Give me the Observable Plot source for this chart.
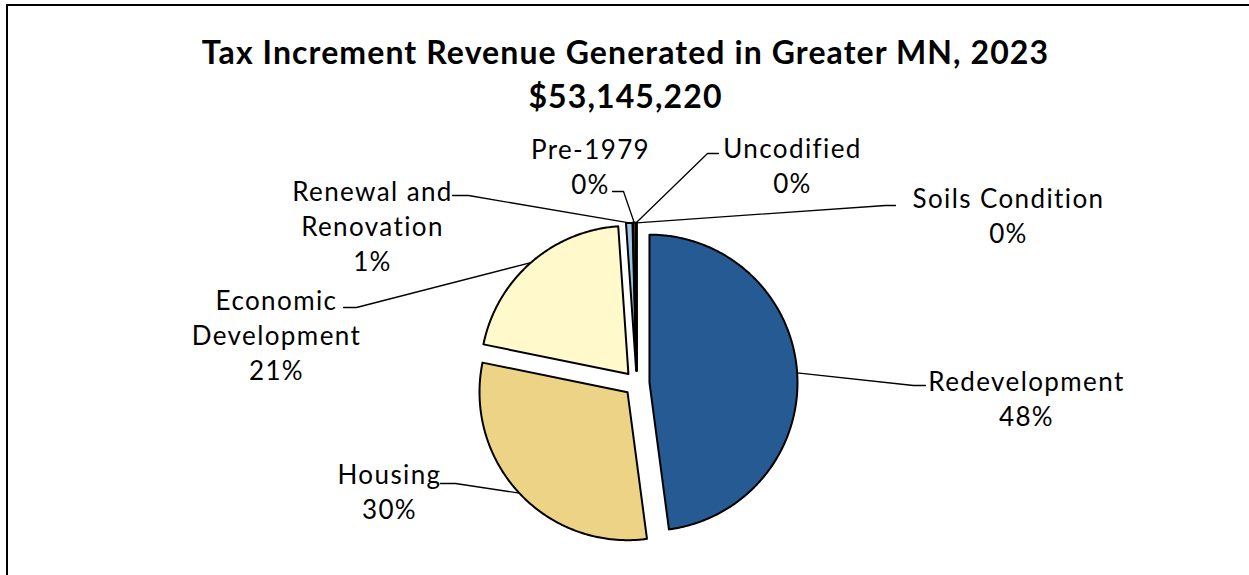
<!DOCTYPE html>
<html><head><meta charset="utf-8">
<script src="https://cdn.jsdelivr.net/npm/d3@7"></script>
<script src="https://cdn.jsdelivr.net/npm/@observablehq/plot@0.6"></script>
<style>
html,body{margin:0;padding:0;background:#fff;overflow:hidden;}
#wrap{position:relative;width:1249px;height:575px;overflow:hidden;}
#border{position:absolute;left:6px;top:4px;width:1400px;height:800px;border:2px solid #000;box-sizing:border-box;pointer-events:none;}
#chart{position:absolute;left:0;top:0;}
</style></head><body>
<div id="wrap"><div id="chart"></div><div id="border"></div></div>
<script>
// ---- data ----
const titleText = "Tax Increment Revenue Generated in Greater MN, 2023";
const totalText = "$53,145,220";
const categories = ["Redevelopment","Housing","Economic Development","Renewal and Renovation","Pre-1979","Uncodified","Soils Condition"];
const shares = [47.9, 30.3, 20.7, 0.7, 0.3, 0.08, 0.02];
const labelNames = ["Redevelopment","Housing","Economic\nDevelopment","Renewal and\nRenovation","Pre-1979","Uncodified","Soils Condition"];

// ---- style / layout ----
const sliceColors = ["#265a92","#edd385","#fff9cc","#9dc3e6","#806000","#1f1f1f","#c00000"];
const W = 1249, H = 575, CX = 636.3, CY = 383, R = 148, EXPLODE = 12.7;
const toUx = px => (px - CX) / R, toUy = py => (CY - py) / R;
const labelAt = [[1026,397],[389,490],[276,333],[372,224],[590,165],[792,164],[1008,214]];
const leaderAt = [
  [[925,385],[913,385]],
  [[440,483],[455,483]],
  [[343,307],[356,307]],
  [[452,195],[468,195]],
  [[612,191],[623,191]],
  [[718,153],[707,153]],
  [[895,205],[885,205]]
];
const titleAt = [625, 71];

// ---- geometry from data ----
const total = d3.sum(shares);
const arcs = d3.pie().sort(null).value(d => d)(shares);
const slicePts = [], leaderPts = [], labels = [];
arcs.forEach((a, i) => {
  const cat = categories[i];
  const m = (a.startAngle + a.endAngle) / 2, off = EXPLODE / R;
  const ox = off * Math.sin(m), oy = off * Math.cos(m);
  const n = Math.max(2, Math.ceil((a.endAngle - a.startAngle) / 0.01));
  slicePts.push({cat, x: ox, y: oy});
  for (let k = 0; k <= n; k++) {
    const t = a.startAngle + (a.endAngle - a.startAngle) * k / n;
    slicePts.push({cat, x: ox + Math.sin(t), y: oy + Math.cos(t)});
  }
  slicePts.push({cat, x: ox, y: oy});
  const [endP, elbow] = leaderAt[i];
  leaderPts.push({cat, x: toUx(endP[0]), y: toUy(endP[1])});
  leaderPts.push({cat, x: toUx(elbow[0]), y: toUy(elbow[1])});
  leaderPts.push({cat, x: ox + Math.sin(m), y: oy + Math.cos(m)});
  labels.push({x: toUx(labelAt[i][0]), y: toUy(labelAt[i][1]),
    text: labelNames[i] + "\n" + Math.round(shares[i] / total * 100) + "%"});
});

const chart = Plot.plot({
  width: W, height: H, margin: 0,
  x: {domain: [toUx(0), toUx(W)], axis: null},
  y: {domain: [toUy(H), toUy(0)], axis: null},
  color: {domain: categories, range: sliceColors},
  style: {fontFamily: "Lato, sans-serif", background: "transparent", color: "#000"},
  marks: [
    Plot.line(leaderPts, {x: "x", y: "y", z: "cat", stroke: "#000", strokeWidth: 1.3, curve: "linear"}),
    Plot.line(slicePts, {x: "x", y: "y", z: "cat", fill: "cat", stroke: "#000", strokeWidth: 2, curve: "linear"}),
    Plot.text(labels, {x: "x", y: "y", text: "text", fontSize: 26, lineHeight: 1.346, lineAnchor: "middle", textAnchor: "middle", fill: "#000"}),
    Plot.text([{x: toUx(titleAt[0]), y: toUy(titleAt[1]), text: titleText + "\n" + totalText}],
      {x: "x", y: "y", text: "text", fontSize: 32, fontWeight: "bold", lineHeight: 1.375, lineAnchor: "middle", textAnchor: "middle", fill: "#000"})
  ]
});
const textGroups = chart.querySelectorAll('g[aria-label="text"]');
if (textGroups[0]) textGroups[0].style.letterSpacing = "1.4px";
if (textGroups[1]) textGroups[1].style.letterSpacing = "1.1px";
document.getElementById("chart").appendChild(chart);
</script>
</body></html>
